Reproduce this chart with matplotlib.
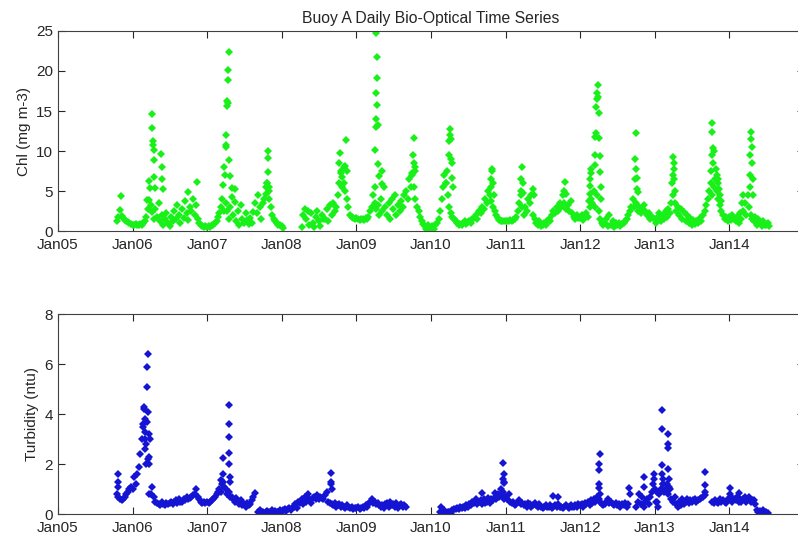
import numpy as np
import pandas as pd
import matplotlib

matplotlib.use("Agg")
import matplotlib.pyplot as plt
import matplotlib.dates as mdates

nan = np.nan

# Chlorophyll, four samples per month (rows = months), NaN = no data
chl_2005 = [  # Oct-Dec
    nan, nan, 1.2, 1.8,
    2.6, 1.9, 1.6, 1.4,
    1.3, 1.1, 1.0, 0.9,
]
chl_2006 = [
    0.8, 0.7, 0.9, 0.7,
    0.8, 0.9, 0.7, 1.0,
    1.3, 1.8, 2.8, 3.9,
    3.2, 2.4, 1.5, 2.8,
    1.8, 3.5, 1.2, 2.0,
    0.8, 1.5, 2.2, 1.0,
    0.6, 1.8, 1.2, 2.5,
    1.5, 3.2, 2.0, 1.0,
    2.8, 1.6, 3.8, 2.2,
    1.4, 3.0, 2.5, 4.0,
    2.0, 3.3, 1.5, 1.0,
    0.8, 0.6, 0.5, 0.6,
]
chl_2007 = [
    0.5, 0.6, 0.5, 0.7,
    0.8, 1.0, 1.3, 1.8,
    2.2, 3.0, 4.0, 2.5,
    3.5, 2.5, 1.5, 3.0,
    4.2, 2.0, 3.6, 1.2,
    2.5, 0.8, 3.2, 1.5,
    1.0, 2.2, 1.4, 0.9,
    1.6, 1.0, 2.4, 3.5,
    2.2, 4.5, 3.0, 1.5,
    3.5, 4.0, 5.5, 6.0,
    4.0, 3.0, 2.0, 1.5,
    1.2, 1.0, 0.8, 0.7,
]
chl_2008 = [
    0.6, 0.4, nan, nan,
    nan, nan, nan, nan,
    nan, nan, nan, nan,
    nan, 0.5, 2.0, 2.8,
    1.5, 2.5, 0.8, 2.2,
    1.0, 0.5, 1.8, 2.5,
    1.2, 0.6, 2.0, 1.5,
    1.5, 2.8, 1.2, 3.2,
    2.0, 3.5, 2.5, 3.0,
    4.5, 6.0, 7.5, 5.5,
    8.0, 5.0, 4.0, 3.0,
    2.0, 1.8, 1.6, 1.5,
]
chl_2009 = [
    1.6, 1.5, 1.4, 1.5,
    1.5, 1.4, 1.6, 1.5,
    1.8, 2.5, 3.0, 4.5,
    3.5, 2.8, 3.2, 2.0,
    4.0, 2.5, 5.5, 3.0,
    2.0, 3.5, 1.5, 4.0,
    2.8, 4.5, 2.0, 3.2,
    2.5, 3.8, 3.0, 4.5,
    5.0, 4.0, 6.5, 5.5,
    7.0, 5.5, 4.0, 3.0,
    2.5, 1.8, 1.2, 0.9,
    0.6, 0.3, 0.7, 0.2,
]
chl_2010 = [
    0.3, 0.6, 0.2, 0.8,
    1.0, 1.5, 2.5, 4.0,
    5.5, 7.0, 6.0, 4.5,
    3.0, 2.2, 1.8, 1.5,
    1.2, 1.0, 0.8, 0.9,
    0.7, 1.0, 1.2, 0.9,
    1.1, 1.3, 1.0, 1.5,
    1.6, 2.0, 1.5, 2.5,
    2.2, 3.0, 2.8, 4.0,
    3.5, 5.0, 4.5, 3.8,
    3.0, 2.5, 2.0, 1.6,
    1.4, 1.3, 1.2, 1.3,
]
chl_2011 = [
    1.3, 1.2, 1.3, 1.4,
    1.3, 1.4, 1.5, 1.8,
    2.5, 3.5, 4.5, 3.0,
    2.0, 3.0, 2.5, 4.0,
    3.5, 4.5, 2.0, 1.5,
    1.0, 0.8, 1.2, 0.6,
    0.8, 1.0, 0.7, 1.2,
    1.5, 1.2, 2.0, 2.5,
    2.2, 3.0, 2.5, 3.5,
    3.0, 4.5, 3.5, 2.8,
    3.2, 2.5, 3.8, 2.2,
    1.8, 1.5, 2.0, 1.6,
]
chl_2012 = [
    1.6, 2.0, 1.4, 1.8,
    2.2, 1.8, 3.0, 4.0,
    3.5, 5.0, 3.0, 4.5,
    2.5, 1.5, 1.0, 0.8,
    1.0, 1.5, 0.6, 2.0,
    0.8, 1.2, 0.5, 1.0,
    0.7, 1.0, 0.6, 0.9,
    1.0, 1.2, 1.5, 2.0,
    2.5, 3.0, 4.0, 3.0,
    3.5, 2.5, 3.0, 2.2,
    2.8, 3.2, 2.5, 2.0,
    2.2, 1.5, 1.8, 1.6,
]
chl_2013 = [
    1.5, 1.0, 1.8, 2.2,
    1.2, 2.0, 1.5, 2.5,
    1.8, 2.8, 2.2, 3.5,
    4.5, 3.5, 2.5, 3.0,
    2.0, 2.8, 1.5, 2.4,
    1.2, 2.0, 1.0, 1.6,
    0.8, 1.4, 0.9, 1.2,
    1.0, 1.6, 1.2, 2.0,
    2.5, 3.2, 4.0, 5.0,
    6.0, 4.5, 5.5, 6.5,
    5.0, 4.0, 3.2, 2.5,
    2.0, 1.5, 1.8, 1.3,
]
chl_2014 = [  # Jan-Jul
    1.8, 1.4, 2.0, 1.5,
    1.2, 1.8, 1.0, 2.2,
    1.5, 2.5, 3.5, 2.0,
    4.5, 3.0, 2.0, 1.5,
    1.2, 1.8, 0.8, 1.5,
    1.0, 0.6, 1.3, 0.8,
    0.7, 1.0, 0.6, nan,
]

# daily bloom values
chl_peak_dates = [
    "2005-11-03",
    "2006-03-15", "2006-03-20", "2006-03-25", "2006-04-06", "2006-04-08",
    "2006-04-10", "2006-04-12", "2006-04-14", "2006-04-16", "2006-04-18",
    "2006-04-20", "2006-05-22", "2006-05-24", "2006-05-26", "2006-05-28",
    "2006-10-01", "2006-11-14",
    "2007-03-20", "2007-03-25", "2007-03-28", "2007-04-01", "2007-04-03",
    "2007-04-05", "2007-04-07", "2007-04-09", "2007-04-11", "2007-04-13",
    "2007-04-15", "2007-04-17", "2007-04-19", "2007-04-22", "2007-05-02",
    "2007-05-18", "2007-10-15", "2007-10-22", "2007-10-24", "2007-10-26",
    "2007-10-28", "2007-10-30", "2007-11-02",
    "2008-10-08", "2008-10-12", "2008-10-15", "2008-10-20", "2008-11-03",
    "2008-11-06", "2008-11-10", "2008-11-14",
    "2009-04-01", "2009-04-03", "2009-04-05", "2009-04-07", "2009-04-08",
    "2009-04-09", "2009-04-10", "2009-04-11", "2009-04-13", "2009-04-15",
    "2009-04-17", "2009-04-20", "2009-05-05", "2009-05-08", "2009-10-01",
    "2009-10-05", "2009-10-08", "2009-10-10", "2009-10-13", "2009-10-16",
    "2010-03-15", "2010-03-20", "2010-03-28", "2010-04-01", "2010-04-03",
    "2010-04-05", "2010-04-07", "2010-04-10", "2010-04-13", "2010-04-16",
    "2010-04-20", "2010-10-20", "2010-10-24", "2010-10-27", "2010-10-29",
    "2010-11-01", "2010-11-04",
    "2011-03-18", "2011-03-20", "2011-03-22", "2011-03-25", "2011-03-28",
    "2011-05-15", "2011-05-18", "2011-10-15", "2011-10-20", "2011-10-25",
    "2012-02-14", "2012-02-16", "2012-02-18", "2012-02-20", "2012-02-22",
    "2012-02-24", "2012-03-12", "2012-03-14", "2012-03-16", "2012-03-18",
    "2012-03-20", "2012-03-22", "2012-03-24", "2012-03-28", "2012-03-31",
    "2012-04-02", "2012-04-04", "2012-04-06", "2012-04-08", "2012-04-10",
    "2012-04-12", "2012-09-26", "2012-09-28", "2012-09-30", "2012-10-02",
    "2012-10-04", "2012-10-06", "2012-10-08",
    "2013-03-28", "2013-03-30", "2013-04-01", "2013-04-03", "2013-04-05",
    "2013-04-07", "2013-04-09", "2013-10-04", "2013-10-06", "2013-10-08",
    "2013-10-10", "2013-10-12", "2013-10-14", "2013-10-16", "2013-10-28",
    "2013-11-01", "2013-11-04", "2013-11-08", "2013-11-12", "2013-11-16",
    "2013-11-20",
    "2014-03-03", "2014-03-06", "2014-04-10", "2014-04-12", "2014-04-14",
    "2014-04-16", "2014-04-18", "2014-04-20", "2014-04-22", "2014-04-24",
    "2014-04-26",
]
chl_peak_vals = [
    4.4,
    3.9, 6.2, 5.4, 14.6, 12.9,
    11.2, 10.7, 10.1, 8.9, 6.8,
    5.4, 9.6, 8.0, 6.5, 5.2,
    4.9, 6.1,
    5.8, 8.0, 7.0, 10.5, 12.0,
    10.7, 15.6, 16.2, 16.0, 18.9,
    20.1, 22.4, 8.9, 6.9, 5.4,
    5.2, 4.6, 6.0, 7.4, 10.0,
    9.1, 5.5, 5.0,
    8.5, 9.7, 7.2, 6.8, 6.0,
    8.1, 11.4, 7.5,
    5.5, 10.1, 13.0, 14.0, 17.2,
    24.7, 21.7, 19.1, 15.7, 13.3,
    8.4, 6.9, 7.5, 5.9, 7.2,
    9.5, 8.5, 11.6, 8.0, 7.5,
    6.0, 7.5, 9.5, 11.2, 12.7,
    12.0, 11.5, 9.0, 8.5, 6.6,
    5.5, 5.5, 6.5, 7.8, 7.5,
    6.0, 4.5,
    5.0, 6.5, 8.0, 6.0, 4.8,
    5.3, 4.5, 5.0, 6.1, 4.6,
    3.8, 4.6, 5.6, 6.5, 7.7,
    7.2, 8.3, 9.5, 11.8, 12.3,
    15.5, 16.5, 17.2, 16.7, 18.2,
    14.7, 11.6, 9.4, 7.4, 5.5,
    4.0, 6.5, 9.0, 12.3, 7.8,
    6.6, 5.2, 4.9,
    6.0, 7.0, 9.2, 8.5, 7.7,
    6.5, 5.0, 7.5, 9.5, 12.4,
    13.5, 10.4, 8.5, 10.0, 7.7,
    7.0, 6.5, 6.0, 5.2, 4.5,
    3.8,
    3.5, 4.5, 5.5, 7.0, 9.5,
    12.4, 11.5, 10.5, 8.5, 6.5,
    4.5,
]

# Turbidity, four samples per month
turb_2005 = [  # Oct-Dec
    nan, nan, 0.8, 0.7,
    0.6, 0.55, 0.6, 0.7,
    0.8, 0.9, 1.0, 1.1,
]
turb_2006 = [
    1.0, 1.5, 1.2, 1.6,
    1.9, 2.4, 3.0, 3.6,
    3.3, 2.8, 2.2, 0.8,
    0.8, 1.1, 0.7, 0.5,
    0.45, 0.4, 0.35, 0.5,
    0.4, 0.35, 0.45, 0.4,
    0.45, 0.5, 0.4, 0.5,
    0.55, 0.45, 0.6, 0.5,
    0.5, 0.6, 0.55, 0.7,
    0.6, 0.65, 0.7, 0.75,
    0.8, 1.0, 0.7, 0.6,
    0.5, 0.45, 0.5, 0.45,
]
turb_2007 = [
    0.5, 0.45, 0.5, 0.55,
    0.6, 0.7, 0.8, 0.9,
    1.0, 0.9, 1.2, 1.1,
    1.0, 0.8, 0.9, 0.7,
    0.7, 0.6, 0.5, 0.65,
    0.5, 0.4, 0.55, 0.35,
    0.4, 0.3, 0.45, 0.35,
    0.4, 0.55, 0.7, 0.85,
    nan, 0.1, 0.15, 0.05,
    0.1, 0.05, 0.1, 0.12,
    0.08, 0.1, 0.15, 0.1,
    0.12, 0.08, 0.1, 0.15,
]
turb_2008 = [
    0.1, 0.15, 0.2, 0.12,
    0.2, 0.25, 0.15, 0.3,
    0.3, 0.4, 0.25, 0.5,
    0.45, 0.6, 0.4, 0.7,
    0.5, 0.8, 0.6, 0.45,
    0.65, 0.7, 0.6, 0.75,
    0.6, 0.7, 0.65, 0.6,
    0.75, 0.9, 0.5, 0.45,
    0.4, 0.35, 0.45, 0.3,
    0.35, 0.4, 0.3, 0.35,
    0.3, 0.25, 0.35, 0.3,
    0.25, 0.3, 0.2, 0.25,
]
turb_2009 = [
    0.25, 0.3, 0.2, 0.25,
    0.3, 0.25, 0.35, 0.3,
    0.4, 0.5, 0.6, 0.45,
    0.5, 0.4, 0.45, 0.35,
    0.3, 0.35, 0.25, 0.4,
    0.45, 0.3, 0.5, 0.35,
    0.4, 0.3, 0.45, 0.25,
    0.35, 0.4, 0.3, 0.35,
    0.3, nan, nan, nan,
    nan, nan, nan, nan,
    nan, nan, nan, nan,
    nan, nan, nan, nan,
]
turb_2010 = [
    nan, nan, nan, nan,
    nan, nan, 0.1, 0.05,
    0.08, 0.15, 0.05, 0.1,
    0.1, 0.05, 0.15, 0.2,
    0.2, 0.25, 0.2, 0.3,
    0.25, 0.3, 0.25, 0.35,
    0.3, 0.4, 0.35, 0.5,
    0.45, 0.6, 0.4, 0.5,
    0.55, 0.4, 0.6, 0.45,
    0.5, 0.65, 0.45, 0.6,
    0.55, 0.7, 0.6, 0.8,
    0.7, 1.0, 0.8, 0.6,
]
turb_2011 = [
    0.7, 0.6, 0.8, 0.5,
    0.45, 0.5, 0.35, 0.4,
    0.5, 0.55, 0.4, 0.45,
    0.35, 0.4, 0.3, 0.45,
    0.4, 0.3, 0.35, 0.45,
    0.35, 0.3, 0.4, 0.3,
    0.25, 0.3, 0.35, 0.3,
    0.3, 0.35, 0.25, 0.3,
    0.35, 0.3, 0.4, 0.3,
    0.3, 0.25, 0.3, 0.35,
    0.3, 0.25, 0.35, 0.3,
    0.3, 0.35, 0.3, 0.4,
]
turb_2012 = [
    0.35, 0.4, 0.3, 0.45,
    0.4, 0.5, 0.35, 0.55,
    0.45, 0.6, 0.5, 0.7,
    0.6, 0.5, 0.4, 0.35,
    0.4, 0.5, 0.6, 0.45,
    0.5, 0.4, 0.35, 0.45,
    0.35, 0.4, 0.3, 0.4,
    0.35, 0.45, 0.3, 0.4,
    nan, nan, nan, nan,
    0.3, 0.5, 0.8, 0.4,
    0.7, 0.3, 0.5, 0.6,
    0.4, 0.7, 0.9, 1.2,
]
turb_2013 = [
    1.0, 0.5, 0.3, 0.8,
    1.0, 1.2, 0.9, 1.0,
    1.2, 0.8, 1.0, 0.6,
    0.5, 0.7, 0.4, 0.3,
    0.5, 0.35, 0.6, 0.4,
    0.5, 0.6, 0.45, 0.55,
    0.5, 0.55, 0.6, 0.5,
    0.55, 0.6, 0.65, 0.7,
    0.75, nan, nan, nan,
    nan, 0.5, 0.45, 0.55,
    0.5, 0.45, 0.6, 0.5,
    0.55, 0.5, 0.45, 0.6,
]
turb_2014 = [  # Jan-Jul
    0.6, 0.7, 0.5, 0.6,
    0.55, 0.7, 0.5, 0.6,
    0.5, 0.6, 0.7, 0.5,
    0.6, 0.7, 0.5, 0.55,
    0.55, 0.4, 0.15, 0.1,
    0.12, 0.08, 0.15, 0.05,
    0.1, 0.05, nan, nan,
]

turb_peak_dates = [
    "2005-10-20", "2005-10-22", "2005-10-24",
    "2006-02-20", "2006-02-24", "2006-02-27", "2006-03-01", "2006-03-03",
    "2006-03-05", "2006-03-08", "2006-03-12", "2006-03-14", "2006-03-15",
    "2006-03-16", "2006-03-18", "2006-03-20", "2006-03-22", "2006-03-24",
    "2006-03-26",
    "2007-03-10", "2007-03-18", "2007-03-19", "2007-03-21", "2007-04-16",
    "2007-04-17", "2007-04-18", "2007-04-19", "2007-04-20", "2007-04-22",
    "2007-04-24",
    "2008-08-27", "2008-08-29", "2008-08-31", "2008-09-02",
    "2010-02-18", "2010-09-09", "2010-11-10", "2010-12-18", "2010-12-20",
    "2010-12-21", "2010-12-22", "2010-12-24", "2010-12-26",
    "2011-08-22", "2011-09-16",
    "2012-04-01", "2012-04-02", "2012-04-03", "2012-04-04", "2012-04-05",
    "2012-04-07", "2012-08-28", "2012-08-30", "2012-11-07", "2012-11-09",
    "2012-12-28", "2012-12-30",
    "2013-01-10", "2013-01-12", "2013-02-04", "2013-02-05", "2013-02-06",
    "2013-02-07", "2013-02-08", "2013-02-09", "2013-03-05", "2013-03-06",
    "2013-03-07", "2013-03-08", "2013-03-09", "2013-03-10", "2013-09-03",
    "2013-09-04", "2013-09-05",
    "2014-01-05", "2014-01-06", "2014-02-18",
]
turb_peak_vals = [
    1.6, 1.3, 1.1,
    3.5, 4.2, 4.3, 3.8, 3.0,
    2.6, 2.0, 3.7, 5.1, 5.9,
    6.4, 4.1, 3.2, 2.3, 2.0,
    3.0,
    1.35, 2.25, 1.6, 1.3, 4.35,
    3.6, 3.1, 2.45, 2.0, 1.5,
    1.3,
    1.65, 1.3, 1.2, 1.0,
    0.3, 0.85, 0.85, 0.9, 1.4,
    2.05, 1.6, 1.25, 1.3,
    0.72, 0.7,
    1.05, 1.2, 1.75, 2.0, 2.4,
    0.8, 1.05, 0.8, 1.5, 1.1,
    1.6, 1.4,
    0.9, 0.5, 4.15, 3.4, 1.95,
    1.6, 1.4, 1.2, 3.2, 2.8,
    2.65, 1.8, 1.4, 1.1, 1.67,
    1.16, 0.9,
    1.05, 0.8, 0.85,
]


def sample_dates(year, first_month, n):
    # four samples per month
    days = [1, 8, 16, 23]
    return [pd.Timestamp(year, first_month + i // 4, days[i % 4]) for i in range(n)]


def build_series(blocks, peak_dates, peak_vals):
    dates, vals = [], []
    for year, first_month, block in blocks:
        dates += sample_dates(year, first_month, len(block))
        vals += block
    dates += [pd.Timestamp(d) for d in peak_dates]
    vals += peak_vals
    s = pd.Series(vals, index=pd.DatetimeIndex(dates)).dropna().sort_index()
    return s


chl = build_series(
    [(2005, 10, chl_2005), (2006, 1, chl_2006), (2007, 1, chl_2007),
     (2008, 1, chl_2008), (2009, 1, chl_2009), (2010, 1, chl_2010),
     (2011, 1, chl_2011), (2012, 1, chl_2012), (2013, 1, chl_2013),
     (2014, 1, chl_2014)],
    chl_peak_dates, chl_peak_vals,
)
turb = build_series(
    [(2005, 10, turb_2005), (2006, 1, turb_2006), (2007, 1, turb_2007),
     (2008, 1, turb_2008), (2009, 1, turb_2009), (2010, 1, turb_2010),
     (2011, 1, turb_2011), (2012, 1, turb_2012), (2013, 1, turb_2013),
     (2014, 1, turb_2014)],
    turb_peak_dates, turb_peak_vals,
)

plt.rcParams["font.family"] = ["Liberation Sans", "DejaVu Sans"]
plt.rcParams["font.size"] = 11

fig = plt.figure(figsize=(7.98, 5.40), dpi=100)
ax1 = fig.add_axes([0.0727, 0.5722, 0.9348, 0.3704])
ax2 = fig.add_axes([0.0727, 0.0481, 0.9348, 0.3704])

year_ticks = [pd.Timestamp(y, 1, 1) for y in range(2005, 2015)]
xlim = (pd.Timestamp(2005, 1, 1), pd.Timestamp(2015, 1, 1))

for ax, s, color, ylim, yt, label in [
    (ax1, chl, "#19f019", (0, 25), [0, 5, 10, 15, 20, 25], "Chl (mg m-3)"),
    (ax2, turb, "#1414d2", (0, 8), [0, 2, 4, 6, 8], "Turbidity (ntu)"),
]:
    ax.plot(s.index, s.values, linestyle="none", marker="D", markersize=3.6,
            markeredgewidth=0, color=color)
    ax.set_xlim(*xlim)
    ax.set_ylim(*ylim)
    ax.set_yticks(yt)
    ax.set_xticks(year_ticks)
    ax.xaxis.set_major_formatter(mdates.DateFormatter("%b%y"))
    ax.set_ylabel(label, color="#262626")
    ax.tick_params(axis="x", pad=5)
    ax.tick_params(direction="in", length=5, width=0.8, top=True, right=True,
                   colors="#262626")
    for sp in ax.spines.values():
        sp.set_color("#404040")
        sp.set_linewidth(0.8)

ax1.set_title("Buoy A Daily Bio-Optical Time Series", color="#262626",
              fontsize=11.3, pad=6)

fig.savefig("out.png", dpi=100)
